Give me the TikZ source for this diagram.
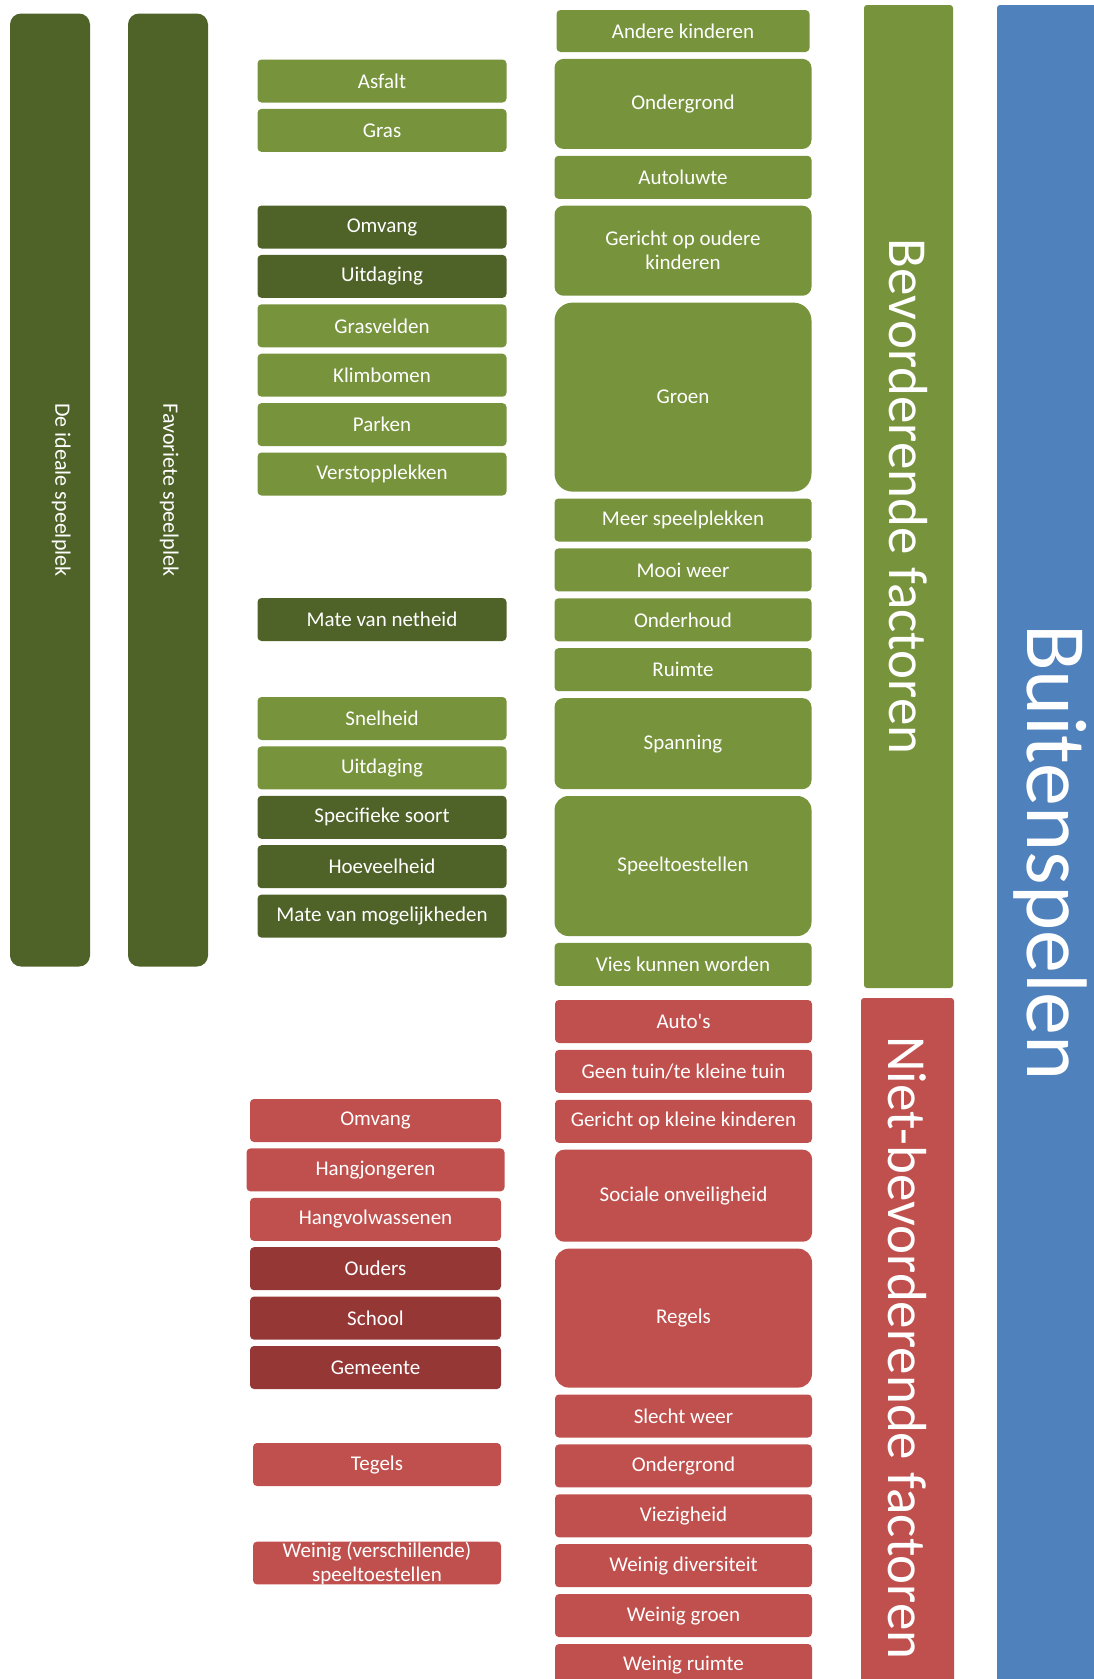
\documentclass[tikz,border=0pt]{standalone}
\usepackage{fontspec}
\setmainfont{Carlito}
\usetikzlibrary{positioning}
\definecolor{lichtgroen}{HTML}{77933C}
\definecolor{donkergroen}{HTML}{4F6228}
\definecolor{lichtrood}{HTML}{C0504D}
\definecolor{donkerrood}{HTML}{953735}
\definecolor{blauw}{HTML}{4F81BD}
\begin{document}
\begin{tikzpicture}[x=1pt,y=-1pt,node distance=6pt,
  blok/.style={rectangle,rounded corners=4pt,text=white,inner sep=0pt,align=center,
    font=\fontsize{21}{24}\selectfont,minimum height=43pt},
  groen/.style={blok,fill=lichtgroen},
  dgroen/.style={blok,fill=donkergroen},
  rood/.style={blok,fill=lichtrood},
  drood/.style={blok,fill=donkerrood},
  links/.style={minimum width=249pt},
  rechts/.style={minimum width=257pt},
  balk/.style={rectangle,rotate=-90,text=white,inner sep=0pt,rounded corners=3pt}]
\useasboundingbox (0,0) rectangle (1094,1679);

% zijbalken links
\node[balk,fill=donkergroen,rounded corners=11pt,minimum width=953pt,minimum height=80pt,
  font=\fontsize{22}{24}\selectfont] (ideaal) at (50,490) {\raisebox{26pt}{De ideale speelplek}};
\node[balk,fill=donkergroen,rounded corners=11pt,minimum width=953pt,minimum height=80pt,
  font=\fontsize{22}{24}\selectfont] (favoriet) at (168,490) {\raisebox{6pt}{Favoriete speelplek}};

% bevorderend, eerste kolom
\node[groen,links] (asfalt) at (382,81) {Asfalt};
\node[groen,links] (gras) [below=of asfalt] {Gras};
\node[dgroen,links] (omvangA) at (382,227) {Omvang};
\node[dgroen,links] (uitdagingA) [below=of omvangA] {Uitdaging};
\node[groen,links] (grasvelden) [below=of uitdagingA] {Grasvelden};
\node[groen,links] (klimbomen) [below=of grasvelden] {Klimbomen};
\node[groen,links] (parken) [below=of klimbomen] {Parken};
\node[groen,links] (verstop) [below=of parken] {Verstopplekken};
\node[dgroen,links] (netheid) at (382,619.5) {Mate van netheid};
\node[groen,links] (snelheid) at (382,718.5) {Snelheid};
\node[groen,links] (uitdagingB) [below=of snelheid] {Uitdaging};
\node[dgroen,links] (soort) [below=of uitdagingB] {Specifieke soort};
\node[dgroen,links] (hoeveelheid) [below=of soort] {Hoeveelheid};
\node[dgroen,links] (mogelijk) [below=of hoeveelheid] {Mate van mogelijkheden};

% bevorderend, tweede kolom
\begin{scope}[node distance=6.5pt]
\node[groen,minimum width=253pt,minimum height=42pt] (andere) at (683,31) {Andere kinderen};
\node[groen,rechts,minimum height=90pt,rounded corners=9pt] (ondergrondA) [below=of andere] {Ondergrond};
\node[groen,rechts] (autoluwte) [below=of ondergrondA] {Autoluwte};
\node[groen,rechts,minimum height=90pt,rounded corners=9pt] (oudere) [below=of autoluwte] {Gericht op oudere\\kinderen};
\node[groen,rechts,minimum height=189pt,rounded corners=18pt] (groen) [below=of oudere] {Groen};
\node[groen,rechts] (meer) [below=of groen] {Meer speelplekken};
\node[groen,rechts] (mooi) [below=of meer] {Mooi weer};
\node[groen,rechts] (onderhoud) [below=of mooi] {Onderhoud};
\node[groen,rechts] (ruimteA) [below=of onderhoud] {Ruimte};
\node[groen,rechts,minimum height=91pt,rounded corners=9pt] (spanning) [below=of ruimteA] {Spanning};
\node[groen,rechts,minimum height=140pt,rounded corners=14pt] (toestellen) [below=of spanning] {Speeltoestellen};
\node[groen,rechts] (vies) [below=of toestellen] {Vies kunnen worden};

% niet-bevorderend, tweede kolom
\node[rood,rechts] (autos) at (683.5,1021.5) {Auto\textquotesingle s};
\node[rood,rechts] (tuin) [below=of autos] {Geen tuin/te kleine tuin};
\node[rood,rechts] (kleine) [below=of tuin] {Gericht op kleine kinderen};
\node[rood,rechts,minimum height=92pt,rounded corners=9pt] (sociaal) [below=of kleine] {Sociale onveiligheid};
\node[rood,rechts,minimum height=139pt,rounded corners=14pt] (regels) [below=of sociaal] {Regels};
\node[rood,rechts] (slecht) [below=of regels] {Slecht weer};
\node[rood,rechts] (ondergrondB) [below=of slecht] {Ondergrond};
\node[rood,rechts] (viezig) [below=of ondergrondB] {Viezigheid};
\node[rood,rechts] (diversiteit) [below=of viezig] {Weinig diversiteit};
\node[rood,rechts] (groenB) [below=of diversiteit] {Weinig groen};
\node[rood,rechts] (ruimteB) [below=of groenB] {Weinig ruimte};
\end{scope}

% niet-bevorderend, eerste kolom
\node[rood,minimum width=251pt] (omvangB) at (375.5,1120.5) {Omvang};
\node[rood,minimum width=258pt] (hangjong) [below=of omvangB] {Hangjongeren};
\node[rood,minimum width=251pt] (hangvolw) [below=of hangjong] {Hangvolwassenen};
\node[drood,minimum width=251pt] (ouders) [below=of hangvolw] {Ouders};
\node[drood,minimum width=251pt] (school) [below=of ouders] {School};
\node[drood,minimum width=251pt] (gemeente) [below=of school] {Gemeente};
\node[rood,minimum width=248pt] (tegels) at (377,1464.5) {Tegels};
\node[rood,minimum width=248pt,minimum height=42pt] (weinig) at (377,1563) {Weinig (verschillende)\\speeltoestellen};

% grote balken rechts
\node[balk,fill=lichtgroen,minimum width=983pt,minimum height=89pt,
  font=\fontsize{55}{60}\selectfont] (bevorderend) at (908.5,496.5) {Bevorderende factoren};
\node[balk,fill=lichtrood,minimum width=700pt,minimum height=93pt,
  font=\fontsize{55}{60}\selectfont] (niet) at (907.5,1348) {Niet-bevorderende factoren};
\node[balk,fill=blauw,minimum width=1695pt,minimum height=106pt,
  font=\fontsize{86}{90}\selectfont] (buiten) at (1050,852.5) {Buitenspelen};
\end{tikzpicture}
\end{document}
